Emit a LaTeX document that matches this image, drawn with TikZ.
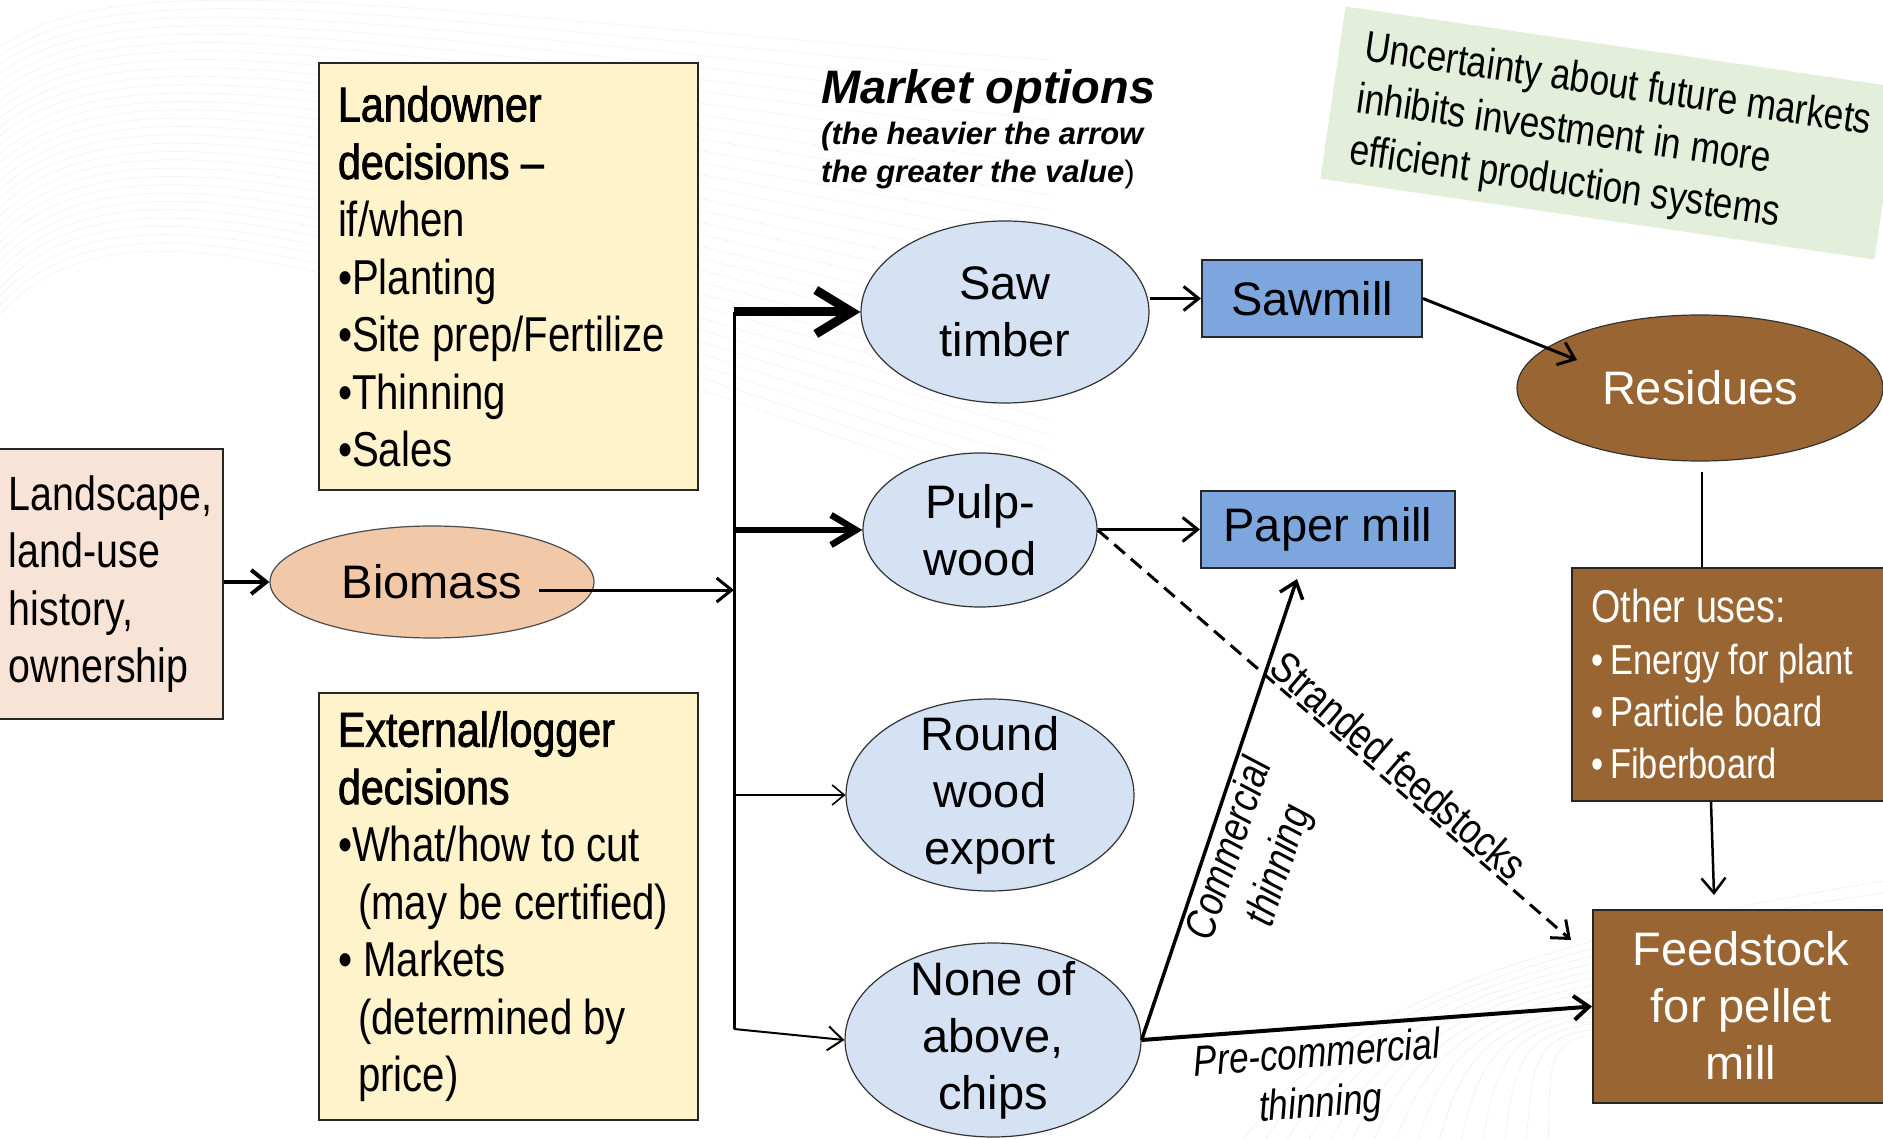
\documentclass[tikz,border=0pt]{standalone}
\usepackage{fontspec}
\setmainfont{Liberation Sans}
\newfontfamily\nfont[FakeStretch=0.82]{Liberation Sans}
\newfontfamily\nsemi[FakeStretch=0.84, FakeBold=1.6]{Liberation Sans}
\usetikzlibrary{arrows.meta,shapes.geometric,calc}

\definecolor{peach}{HTML}{F8E4D7}
\definecolor{biom}{HTML}{F1C8A8}
\definecolor{ylw}{HTML}{FFF3CB}
\definecolor{lblue}{HTML}{D5E2F3}
\definecolor{mblue}{HTML}{7CA6DD}
\definecolor{woodbrown}{HTML}{996633}
\definecolor{notegreen}{HTML}{E3EFDA}

\newcommand{\fsz}[2]{\fontsize{#1}{#2}\selectfont}

\begin{document}
\begin{tikzpicture}[x=1pt,y=-1pt,
  box/.style={draw=black!85, line width=2pt, rectangle, inner sep=0pt},
  ybox/.style={box, fill=ylw, anchor=north west, align=flush left, minimum width=379pt,
    minimum height=427pt, text width=341pt, inner xsep=19pt, inner ysep=0pt,
    font=\nfont\fsz{49}{57.5}},
  blob/.style={ellipse, draw=black!80, line width=1.2pt, fill=lblue, inner sep=0pt},
  mill/.style={box, fill=mblue, font=\fsz{47}{57}},
  wood/.style={box, fill=woodbrown},
  lbl/.style={inner sep=0pt, align=center, font=\fsz{47}{57}},
  wlbl/.style={lbl, text=white},
  arrA/.style={-{Straight Barb[length=15pt,width=24pt]}, line width=3pt},
  arrB/.style={-{Straight Barb[length=12pt,width=20pt]}, line width=1.6pt},
  arrHeavy/.style={-{Straight Barb[length=36pt,width=44pt]}, line width=9pt},
  arrMed/.style={-{Straight Barb[length=25pt,width=30pt]}, line width=6.5pt},
  swoosh/.style={line width=0.6pt},
  tlbl/.style={inner sep=2pt, font=\nfont\fsz{43}{52}},
]
\useasboundingbox (0,0) rectangle (1883,1139);

% faint background waves
\foreach \i in {0,...,30}
  \draw[swoosh, black!5] (-5,{50+9*\i}) .. controls (120,{-40+7*\i}) and (380,{10+9*\i}) .. (1050,{60+15*\i});
\foreach \i in {0,...,14}
  \draw[swoosh, green!35!black!8] ({1240+22*\i},1145) .. controls ({1330+16*\i},1010) and (1520,{940+6*\i}) .. (1890,{880+12*\i});

% rotated note
\node[fill=notegreen, rotate=-8.3, minimum width=560pt, minimum height=174pt, inner sep=0pt] (note) at (1610,133) {};
\node[rotate=-8.3, anchor=west, inner sep=0pt, align=left, font=\nfont\fsz{43}{52}] (notet) at (1357,101)
  {Uncertainty about future markets\\inhibits investment in more\\efficient production systems};

% title
\node[anchor=base west, inner sep=0pt, font=\fsz{47}{57}\bfseries\itshape] (mtitle) at (821,104) {Market options};
\node[anchor=base west, inner sep=0pt, font=\fsz{31}{38}\bfseries\itshape] (msub1) at (821,145) {(the heavier the arrow};
\node[anchor=base west, inner sep=0pt, font=\fsz{31}{38}\bfseries\itshape] (msub2) at (821,183) {the greater the value\textnormal{)}};

% decision boxes
\node[ybox] (landowner) at (318,62)
  {{\nsemi Landowner\\decisions –}\\if/when\\•Planting\\•Site prep/Fertilize\\•Thinning\\•Sales};
\node[ybox] (external) at (318,692)
  {{\nsemi External/logger\\decisions}\\•What/how to cut\\\hspace*{20pt}(may be certified)\\• Markets\\\hspace*{20pt}(determined by\\\hspace*{20pt}price)};

% landscape and biomass
\node[box, fill=peach, anchor=north west, minimum width=225pt, minimum height=270pt,
  text width=203pt, inner xsep=11pt, align=flush left, font=\nfont\fsz{48}{57.5}] (land) at (-3,448)
  {Landscape,\\land-use\\history,\\ownership};
\node[ellipse, draw=black!70, line width=1.2pt, fill=biom, minimum width=324pt, minimum height=112pt, inner sep=0pt] (biomass) at (432,582) {};
\node[lbl] (biomasst) at (biomass) {Biomass};

% market option ellipses
\node[blob, minimum width=288pt, minimum height=182pt] (saw) at (1005,312) {};
\node[lbl] (sawt) at (saw) {Saw\\timber};
\node[blob, minimum width=234pt, minimum height=154pt] (pulp) at (980,530) {};
\node[lbl] (pulpt) at (pulp) {Pulp-\\wood};
\node[blob, minimum width=288pt, minimum height=192pt] (round) at (990,795) {};
\node[lbl] (roundt) at (round) {Round\\wood\\export};
\node[blob, minimum width=296pt, minimum height=194pt] (none) at (993,1040) {};
\node[lbl] (nonet) at (none) {None of\\above,\\chips};

% mills and wood products
\node[mill, minimum width=220pt, minimum height=77pt] (sawmill) at (1312,298.5) {Sawmill};
\node[mill, minimum width=254pt, minimum height=77pt] (paper) at (1328,529.5) {Paper mill};
\node[ellipse, draw=black!80, line width=1.2pt, fill=woodbrown, minimum width=366pt, minimum height=146pt, inner sep=0pt] (residues) at (1700,388) {};
\node[wlbl] (residuest) at (residues) {Residues};
\node[wood, anchor=north west, minimum width=330pt, minimum height=233pt] (other) at (1571,567) {};
\node[anchor=west, inner sep=0pt, align=left, text=white, font=\nfont\fsz{42}{51.7}] (othert) at (1591,684)
  {{\fsz{46}{51.7}Other uses:}\\•\,Energy for plant\\•\,Particle board\\•\,Fiberboard};
\node[wood, anchor=north west, minimum width=310pt, minimum height=193pt] (feed) at (1592,909) {};
\node[wlbl] (feedt) at (1741,1005) {Feedstock\\for pellet\\mill};

% connector end points
\coordinate (bustop) at (734,312);
\coordinate (busbot) at (734,1029);
\coordinate (bstart) at ($(biomasst.east)+(17,8)$);
\coordinate (resin) at ($(residues.center)+(-123,-28)$);
\coordinate (restail) at ($(residues.south)+(2,10)$);
\coordinate (othertop) at ($(other.north west)+(131,0)$);
\coordinate (otherbot) at ($(other.south west)+(140,0)$);
\coordinate (feedtop) at ($(feed.north west)+(122,-14)$);
\coordinate (strandend) at ($(feed.north west)+(-21,31)$);
\coordinate (cthinend) at ($(paper.south)+(-31,10)$);

% flows from the landscape to the market options
\draw[-{Straight Barb[length=15pt,width=24pt]}, line width=4pt] (land.east |- biomass) -- (biomass.west);
\draw[arrA] (bstart) -- (bstart -| bustop);
\draw[line width=3pt] (bustop) -- (busbot);
\draw[arrHeavy] (bustop) -- (saw.west);
\draw[arrMed] (bustop |- pulp.west) -- (pulp.west);
\draw[arrB] (bustop |- round.west) -- (round.west);
\draw[arrA, line width=2pt] (busbot) -- (none.west);

% flows to the mills and the pellet feedstock
\draw[arrA] (saw.east |- sawmill.west) -- (sawmill.west);
\draw[arrA] (pulp.east |- paper.west) -- (paper.west);
\draw[arrA] (sawmill.east) -- (resin);
\draw[line width=2.5pt] (restail) -- (othertop);
\draw[arrA, line width=2.5pt] (otherbot) -- (feedtop);
\draw[arrA, line width=3pt, dash pattern=on 14pt off 8pt] (pulp.east) --
  node[tlbl, pos=0.61, sloped, above] (strl) {Stranded feedstocks} (strandend);
\draw[arrA, line width=3.5pt] (none.east) --
  node[tlbl, pos=0.43, sloped, below, align=center, font=\nfont\itshape\fsz{43}{52}] (ctl) {Commercial\\thinning} (cthinend);
\draw[arrA, line width=4pt] (none.east) --
  node[tlbl, pos=0.385, sloped, below, inner sep=7pt, align=center, font=\nfont\itshape\fsz{43}{50}] (pctl) {Pre-commercial\\thinning} (feed.west);
\end{tikzpicture}
\end{document}
